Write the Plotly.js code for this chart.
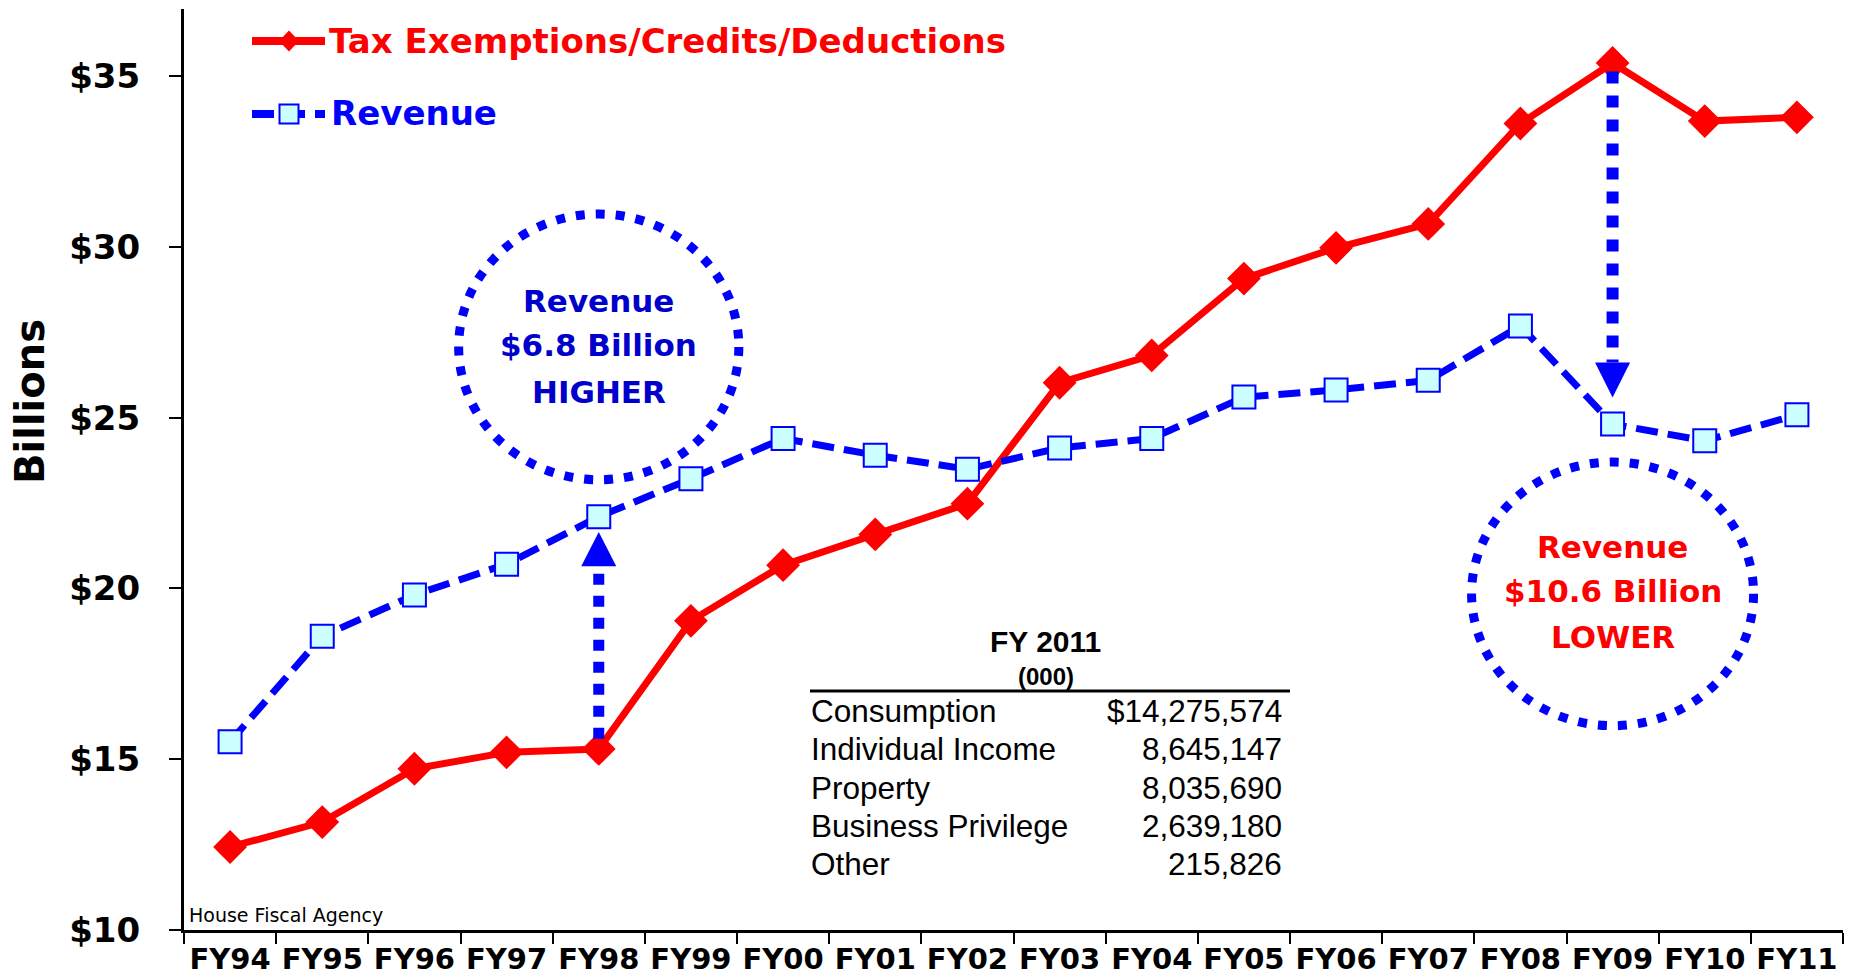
<!DOCTYPE html>
<html>
<head>
<meta charset="utf-8">
<script src="https://cdn.plot.ly/plotly-3.0.1.min.js"></script>
<style>
html,body{margin:0;padding:0;background:#fff;}
#chart{width:1858px;height:978px;}
</style>
</head>
<body>
<div id="chart"></div>
<script>
// ---- data ----
const years = ['FY94','FY95','FY96','FY97','FY98','FY99','FY00','FY01','FY02','FY03','FY04','FY05','FY06','FY07','FY08','FY09','FY10','FY11'];
const taxExemptions = [12.43, 13.16, 14.72, 15.20, 15.30, 19.05, 20.68, 21.58, 22.48, 26.02, 26.82, 29.07, 29.97, 30.67, 33.61, 35.38, 33.68, 33.79];
const revenue = [15.51, 18.60, 19.81, 20.71, 22.10, 23.21, 24.39, 23.90, 23.49, 24.11, 24.39, 25.60, 25.81, 26.09, 27.68, 24.81, 24.32, 25.08];
const yTickVals = [10, 15, 20, 25, 30, 35];
const yTickText = ['$10', '$15', '$20', '$25', '$30', '$35'];
const yAxisTitle = 'Billions';
const seriesNames = ['Tax Exemptions/Credits/Deductions', 'Revenue'];
const tableTitle = 'FY 2011';
const tableUnit = '(000)';
const tableLabels = ['Consumption', 'Individual Income', 'Property', 'Business Privilege', 'Other'];
const tableValues = ['$14,275,574', '8,645,147', '8,035,690', '2,639,180', '215,826'];
const higherText = ['Revenue', '$6.8 Billion', 'HIGHER'];
const lowerText = ['Revenue', '$10.6 Billion', 'LOWER'];
const sourceText = 'House Fiscal Agency';

// ---- geometry helpers (pixel -> paper) ----
const W = 1858, H = 978;
const M = {l: 184, r: 15, t: 9, b: 48};
const PW = W - M.l - M.r, PH = H - M.t - M.b;
const fx = px => (px - M.l) / PW;
const fy = py => (H - M.b - py) / PH;
const pxPerUnit = 34.16;
const yTop = 10 + PH / pxPerUnit;

const RED = '#FF0000', BLUE = '#0000FF', DBLUE = '#0000CC', CYAN = '#CCFFFF';
const BF = 'DejaVu Sans';

const traces = [
  {
    x: years, y: taxExemptions, type: 'scatter', mode: 'lines+markers', name: seriesNames[0],
    line: {color: RED, width: 7},
    marker: {symbol: 'diamond', size: 26, color: RED, line: {width: 0}},
    showlegend: false, hoverinfo: 'x+y'
  },
  {
    x: years, y: revenue, type: 'scatter', mode: 'lines+markers', name: seriesNames[1],
    line: {color: BLUE, width: 7, dash: '22px,10px'},
    marker: {symbol: 'square', size: 23, color: CYAN, line: {width: 2, color: BLUE}},
    showlegend: false, hoverinfo: 'x+y'
  }
];

const shapes = [];
const annotations = [];

// circles around call-outs (centered on FY98 and FY09)
const i98 = years.indexOf('FY98'), i09 = years.indexOf('FY09');
shapes.push({type: 'circle', xref: 'x', yref: 'y', x0: i98 - 1.52, x1: i98 + 1.52, y0: 27.07 - 3.89, y1: 27.07 + 3.89,
  line: {color: BLUE, width: 9, dash: '9px,11px'}, layer: 'above'});
shapes.push({type: 'circle', xref: 'x', yref: 'y', x0: i09 - 1.53, x1: i09 + 1.53, y0: 19.84 - 3.86, y1: 19.84 + 3.86,
  line: {color: BLUE, width: 9, dash: '9px,11px'}, layer: 'above'});

// dotted arrows
const hw = 0.19;
// FY98 up arrow: from tax to revenue
const a98base = revenue[i98] - 1.45, a98tip = revenue[i98] - 0.45;
shapes.push({type: 'line', xref: 'x', yref: 'y', x0: i98, x1: i98, y0: taxExemptions[i98] + 0.3, y1: a98base,
  line: {color: BLUE, width: 11, dash: '11px,11px'}});
shapes.push({type: 'path', xref: 'x', yref: 'y', path: `M${i98 - hw},${a98base} L${i98 + hw},${a98base} L${i98},${a98tip} Z`,
  fillcolor: BLUE, line: {width: 0}});
// FY09 down arrow: from tax to revenue
const a09base = revenue[i09] + 1.8, a09tip = revenue[i09] + 0.78;
shapes.push({type: 'line', xref: 'x', yref: 'y', x0: i09, x1: i09, y0: taxExemptions[i09] - 0.25, y1: a09base,
  line: {color: BLUE, width: 12, dash: '12px,12px'}});
shapes.push({type: 'path', xref: 'x', yref: 'y', path: `M${i09 - hw},${a09base} L${i09 + hw},${a09base} L${i09},${a09tip} Z`,
  fillcolor: BLUE, line: {width: 0}});

// call-out texts
const higherY = [28.41, 27.13, 25.75];
const lowerY = [21.21, 19.92, 18.58];
higherText.forEach((t, k) => annotations.push({xref: 'x', yref: 'y', x: i98, y: higherY[k], text: t, showarrow: false,
  xanchor: 'center', yanchor: 'middle', font: {family: BF, size: 31, color: DBLUE, weight: 'bold'}}));
lowerText.forEach((t, k) => annotations.push({xref: 'x', yref: 'y', x: i09, y: lowerY[k], text: t, showarrow: false,
  xanchor: 'center', yanchor: 'middle', font: {family: BF, size: 31, color: RED, weight: 'bold'}}));

// manual legend
shapes.push({type: 'line', xref: 'paper', yref: 'paper', x0: fx(252), x1: fx(325), y0: fy(41), y1: fy(41), line: {color: RED, width: 8}});
shapes.push({type: 'path', xref: 'paper', yref: 'paper',
  path: `M${fx(279)},${fy(41)} L${fx(289)},${fy(30.5)} L${fx(299)},${fy(41)} L${fx(289)},${fy(51.5)} Z`, fillcolor: RED, line: {width: 0}});
shapes.push({type: 'line', xref: 'paper', yref: 'paper', x0: fx(252), x1: fx(274), y0: fy(114), y1: fy(114), line: {color: BLUE, width: 8}});
shapes.push({type: 'line', xref: 'paper', yref: 'paper', x0: fx(298), x1: fx(305), y0: fy(114), y1: fy(114), line: {color: BLUE, width: 8}});
shapes.push({type: 'line', xref: 'paper', yref: 'paper', x0: fx(315), x1: fx(325), y0: fy(114), y1: fy(114), line: {color: BLUE, width: 8}});
shapes.push({type: 'rect', xref: 'paper', yref: 'paper', x0: fx(279.5), x1: fx(298.5), y0: fy(123.5), y1: fy(104.5),
  fillcolor: CYAN, line: {color: BLUE, width: 2}});
annotations.push({xref: 'paper', yref: 'paper', x: fx(327), y: fy(41), xanchor: 'left', yanchor: 'middle', showarrow: false,
  text: seriesNames[0], font: {family: BF, size: 34, color: RED, weight: 'bold'}});
annotations.push({xref: 'paper', yref: 'paper', x: fx(329), y: fy(113), xanchor: 'left', yanchor: 'middle', showarrow: false,
  text: seriesNames[1], font: {family: BF, size: 34, color: BLUE, weight: 'bold'}});

// y axis title (placed as rotated annotation to match position)
annotations.push({xref: 'paper', yref: 'paper', x: fx(30), y: fy(402), xanchor: 'center', yanchor: 'middle', showarrow: false,
  textangle: -90, text: yAxisTitle, font: {family: BF, size: 40, color: '#000', weight: 'bold'}});

// source note
annotations.push({xref: 'paper', yref: 'paper', x: fx(187), y: fy(915), xanchor: 'left', yanchor: 'middle', showarrow: false,
  text: sourceText, font: {family: BF, size: 19, color: '#000'}});

// FY 2011 table
const TF = 'Liberation Sans';
annotations.push({xref: 'paper', yref: 'paper', x: fx(1045), y: fy(641), xanchor: 'center', yanchor: 'middle', showarrow: false,
  text: tableTitle, font: {family: TF, size: 30, color: '#000', weight: 'bold'}});
annotations.push({xref: 'paper', yref: 'paper', x: fx(1046), y: fy(676), xanchor: 'center', yanchor: 'middle', showarrow: false,
  text: tableUnit, font: {family: TF, size: 24, color: '#000', weight: 'bold'}});
shapes.push({type: 'line', xref: 'paper', yref: 'paper', x0: fx(810), x1: fx(1290), y0: fy(691), y1: fy(691), line: {color: '#000', width: 3}});
tableLabels.forEach((lab, k) => {
  const py = 711 + k * 38.3;
  annotations.push({xref: 'paper', yref: 'paper', x: fx(809), y: fy(py), xanchor: 'left', yanchor: 'middle', showarrow: false,
    text: lab, font: {family: TF, size: 31.5, color: '#000'}});
  annotations.push({xref: 'paper', yref: 'paper', x: fx(1284), y: fy(py), xanchor: 'right', yanchor: 'middle', showarrow: false,
    text: tableValues[k], font: {family: TF, size: 31.5, color: '#000'}});
});

const layout = {
  width: W, height: H,
  margin: M,
  paper_bgcolor: '#fff', plot_bgcolor: '#fff',
  showlegend: false,
  font: {family: BF, color: '#000'},
  xaxis: {
    type: 'category', range: [-0.5, years.length - 0.5], tickangle: 0,
    tickson: 'boundaries', ticks: 'outside', ticklen: 11, tickwidth: 2, tickcolor: '#000',
    showline: true, linewidth: 3, linecolor: '#000', showgrid: false, zeroline: false,
    tickfont: {family: BF, size: 29, color: '#000', weight: 'bold'}, ticklabelstandoff: 1,
    automargin: false, fixedrange: true
  },
  yaxis: {
    range: [10, yTop], tickvals: yTickVals, ticktext: yTickText,
    ticks: 'outside', ticklen: 12, tickwidth: 2, tickcolor: '#000',
    showline: true, linewidth: 3, linecolor: '#000', showgrid: false, zeroline: false,
    tickfont: {family: BF, size: 34, color: '#000', weight: 'bold'}, ticklabelstandoff: 22,
    automargin: false, fixedrange: true
  },
  shapes: shapes,
  annotations: annotations
};

Plotly.newPlot('chart', traces, layout, {displayModeBar: false, responsive: false});
</script>
</body>
</html>
